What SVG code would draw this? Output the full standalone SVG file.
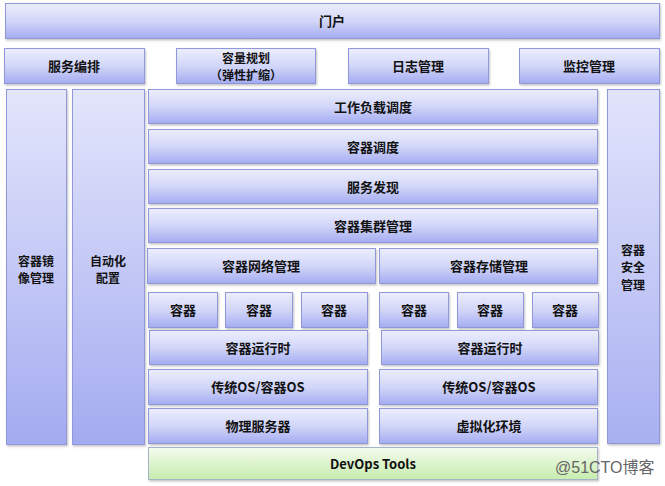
<svg xmlns="http://www.w3.org/2000/svg" width="665" height="486" viewBox="0 0 665 486">
<defs>
<linearGradient id="gb" x1="0" y1="0" x2="0" y2="1">
<stop offset="0" stop-color="#eceefc"/>
<stop offset="0.5" stop-color="#d2d6f8"/>
<stop offset="1" stop-color="#a4acf1"/>
</linearGradient>
<linearGradient id="gt" x1="0" y1="0" x2="0" y2="1">
<stop offset="0" stop-color="#e4e6fb"/>
<stop offset="1" stop-color="#a3abf0"/>
</linearGradient>
<linearGradient id="gs" x1="0" y1="0" x2="0" y2="1">
<stop offset="0" stop-color="#e2e4fb"/>
<stop offset="1" stop-color="#a8b0f1"/>
</linearGradient>
<linearGradient id="gg" x1="0" y1="0" x2="0" y2="1">
<stop offset="0" stop-color="#f4fbee"/>
<stop offset="1" stop-color="#c6ecae"/>
</linearGradient>
<filter id="sh" x="-10%" y="-10%" width="120%" height="130%">
<feDropShadow dx="1" dy="1.5" stdDeviation="1" flood-color="#555" flood-opacity="0.35"/>
</filter>
</defs>
<style>
.b{fill:url(#gb);stroke:#9098d9;stroke-width:1;filter:url(#sh)}
.t{fill:url(#gt);stroke:#9098d9;stroke-width:1;filter:url(#sh)}
.s{fill:url(#gs);stroke:#9098d9;stroke-width:1;filter:url(#sh)}
.g{fill:url(#gg);stroke:#a6b4c8;stroke-width:1;filter:url(#sh)}
text{font-family:"Noto Sans CJK SC","Liberation Sans",sans-serif;font-weight:bold;font-size:13px;fill:#111;text-anchor:middle;dominant-baseline:central}
text.m{font-size:12px}
.w{font-family:"Liberation Sans","Noto Sans CJK SC",sans-serif;font-weight:normal;font-size:16px;fill:#666;text-anchor:start;dominant-baseline:alphabetic}
</style>
<rect width="665" height="486" fill="#fff"/>
<g id="portal"><rect class="b" x="5.5" y="3.5" width="654" height="35"/><text x="332" y="20">门户</text></g>
<g id="orchestration"><rect class="b" x="4.5" y="48.5" width="140" height="35"/><text x="74" y="65">服务编排</text></g>
<g id="capacity"><rect class="b" x="176.5" y="48.5" width="139" height="35"/><text class="m" x="246" y="57">容量规划</text><text class="m" x="246" y="74.5">（弹性扩缩）</text></g>
<g id="logging"><rect class="b" x="348.5" y="48.5" width="140" height="35"/><text x="418" y="65">日志管理</text></g>
<g id="monitoring"><rect class="b" x="519.5" y="48.5" width="140" height="35"/><text x="589" y="65">监控管理</text></g>
<g id="image-mgmt"><rect class="t" x="6.5" y="89.5" width="60" height="355"/><text class="m" x="36" y="260">容器镜</text><text class="m" x="36" y="277.5">像管理</text></g>
<g id="auto-config"><rect class="t" x="72.5" y="89.5" width="72" height="355"/><text class="m" x="108" y="260">自动化</text><text class="m" x="108" y="277.5">配置</text></g>
<g id="security"><rect class="s" x="607.5" y="89.5" width="52" height="354"/><text class="m" x="633" y="249">容器</text><text class="m" x="633" y="266.5">安全</text><text class="m" x="633" y="284">管理</text></g>
<g id="workload"><rect class="b" x="148.5" y="89.5" width="449" height="34"/><text x="373" y="106">工作负载调度</text></g>
<g id="scheduling"><rect class="b" x="148.5" y="129.5" width="449" height="34"/><text x="373" y="146">容器调度</text></g>
<g id="discovery"><rect class="b" x="148.5" y="169.5" width="449" height="34"/><text x="373" y="186">服务发现</text></g>
<g id="cluster"><rect class="b" x="148.5" y="208.5" width="449" height="34"/><text x="373" y="225">容器集群管理</text></g>
<g id="network"><rect class="b" x="147.5" y="248.5" width="228" height="35"/><text x="261" y="265">容器网络管理</text></g>
<g id="storage"><rect class="b" x="379.5" y="248.5" width="218" height="35"/><text x="489" y="265">容器存储管理</text></g>
<g id="c1"><rect class="b" x="148.5" y="292.5" width="69" height="35"/><text x="183" y="309">容器</text></g>
<g id="c2"><rect class="b" x="225.5" y="292.5" width="67" height="35"/><text x="259" y="309">容器</text></g>
<g id="c3"><rect class="b" x="301.5" y="292.5" width="66" height="35"/><text x="334" y="309">容器</text></g>
<g id="c4"><rect class="b" x="379.5" y="292.5" width="69" height="35"/><text x="414" y="309">容器</text></g>
<g id="c5"><rect class="b" x="457.5" y="292.5" width="66" height="35"/><text x="490" y="309">容器</text></g>
<g id="c6"><rect class="b" x="532.5" y="292.5" width="66" height="35"/><text x="565" y="309">容器</text></g>
<g id="runtime1"><rect class="b" x="149.5" y="330.5" width="218" height="34"/><text x="258" y="347">容器运行时</text></g>
<g id="runtime2"><rect class="b" x="381.5" y="330.5" width="217" height="34"/><text x="490" y="347">容器运行时</text></g>
<g id="os1"><rect class="b" x="148.5" y="369.5" width="219" height="35"/><text x="258" y="386">传统OS/容器OS</text></g>
<g id="os2"><rect class="b" x="379.5" y="369.5" width="218" height="35"/><text x="489" y="386">传统OS/容器OS</text></g>
<g id="physical"><rect class="b" x="148.5" y="408.5" width="219" height="35"/><text x="258" y="425">物理服务器</text></g>
<g id="virtual"><rect class="b" x="379.5" y="408.5" width="218" height="35"/><text x="489" y="425">虚拟化环境</text></g>
<g id="devops"><rect class="g" x="148.5" y="447.5" width="449" height="32"/><text x="373" y="463">DevOps Tools</text></g>
<g id="connectors"></g>
<text class="w" x="555" y="473">@51CTO博客</text>
</svg>
